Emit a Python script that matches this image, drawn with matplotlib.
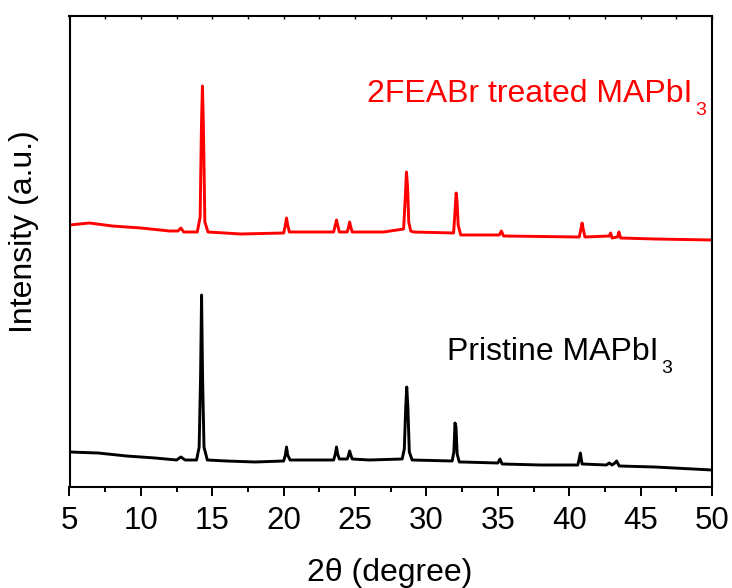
import matplotlib
matplotlib.use("Agg")
import matplotlib.pyplot as plt
from matplotlib.ticker import MultipleLocator

plt.rcParams['font.family'] = ['Liberation Sans', 'DejaVu Sans']

# Pristine MAPbI3 (black) : 2theta, intensity (a.u.)
pristine_2theta = [5.0, 7.0, 9.0, 11.0, 12.5, 12.8, 13.1, 13.9, 14.08, 14.18, 14.25, 14.32, 14.42, 14.65,
                   16.0, 18.0, 20.0, 20.12, 20.2, 20.28, 20.45, 22.0, 23.5, 23.62, 23.7, 23.78, 23.9,
                   24.45, 24.55, 24.62, 24.7, 24.8, 26.0, 28.3, 28.45, 28.55, 28.62, 28.7, 28.8, 29.0,
                   31.8, 31.92, 32.0, 32.07, 32.15, 32.3, 32.5, 35.0, 35.15, 35.3, 38.0, 40.6, 40.7,
                   40.78, 40.9, 42.6, 42.8, 43.0, 43.2, 43.32, 43.5, 46.0, 50.0]
pristine_int = [35, 34, 31, 29, 27, 30, 27, 27, 40, 110, 192, 110, 40, 27,
                26, 25, 26, 32, 40, 32, 27, 27, 27, 33, 40, 33, 28,
                28, 32, 36, 32, 28, 27, 28, 38, 80, 100, 80, 35, 27,
                26, 35, 64, 60, 33, 25, 25, 24, 28, 23, 22, 22, 28,
                34, 23, 22, 24, 22, 24, 26, 21, 20, 17]

# 2FEABr treated MAPbI3 (red)
treated_2theta = [5.0, 6.4, 8.0, 10.0, 12.0, 12.6, 12.8, 13.0, 13.95, 14.15, 14.24, 14.31, 14.38, 14.48, 14.7,
                  17.0, 20.0, 20.12, 20.2, 20.28, 20.4, 23.5, 23.62, 23.7, 23.78, 23.9,
                  24.45, 24.55, 24.62, 24.7, 24.8, 27.0, 28.4, 28.52, 28.6, 28.68, 28.76, 28.9, 29.1,
                  31.9, 32.0, 32.08, 32.15, 32.22, 32.4, 35.1, 35.25, 35.4, 40.7, 40.82, 40.9, 40.98,
                  41.1, 42.8, 42.9, 43.0, 43.38, 43.48, 43.6, 46.0, 50.0]
treated_int = [262, 264, 261, 259, 256, 256, 259, 255, 255, 270, 360, 401, 360, 265, 255,
               253, 254, 262, 269, 262, 255, 255, 262, 267, 262, 255,
               255, 260, 265, 260, 255, 255, 258, 290, 315, 300, 265, 256, 255,
               254, 275, 294, 285, 262, 252, 252, 256, 251, 250, 258, 264, 258,
               250, 251, 254, 249, 250, 255, 249, 248, 247]

labels = ["2FEABr treated MAPbI", "Pristine MAPbI"]
label_sub = "3"
x_ticks = [5, 10, 15, 20, 25, 30, 35, 40, 45, 50]

W, H = 732, 588
fig = plt.figure(figsize=(W / 100, H / 100), dpi=100)
ax = fig.add_axes([69.5 / W, 1 - 487 / H, 642.5 / W, 471 / H])

ax.plot(pristine_2theta, pristine_int, color='black', lw=2.1, solid_joinstyle='round')
ax.plot(treated_2theta, treated_int, color='#ff0000', lw=2.1, solid_joinstyle='round')

ax.set_xlim(5, 50)
ax.set_ylim(0, 471)
ax.set_xticks(x_ticks)
ax.xaxis.set_minor_locator(MultipleLocator(2.5))
ax.tick_params(axis='x', which='major', direction='out', length=6.5, width=1.4,
               labelsize=22.5, pad=7.5, top=False)
ax.tick_params(axis='x', which='minor', direction='out', length=3.5, width=1.4, top=False)
ax.set_yticks([])

# top inward ticks
secx = ax.secondary_xaxis('top')
secx.set_xticks(x_ticks)
secx.xaxis.set_minor_locator(MultipleLocator(2.5))
secx.tick_params(axis='x', which='both', direction='in', length=2.5, width=1.0, labeltop=False)
secx.set_xticklabels([])
secx.spines['top'].set_visible(False)

for s in ax.spines.values():
    s.set_linewidth(1.5)

fig.text(390 / W, 1 - 573 / H, "2θ (degree)", fontsize=23, ha='center', va='center')
fig.text(24 / W, 1 - 232 / H, "Intensity (a.u.)", fontsize=23, ha='center', va='center',
         rotation=90)

t1 = ax.text((367 - 69.5) / 642.5, (487 - 102) / 471, labels[0], transform=ax.transAxes,
             color='#ff0000', fontsize=23, ha='left', va='baseline')
t2 = ax.text((447 - 69.5) / 642.5, (487 - 360) / 471, labels[1], transform=ax.transAxes,
             color='black', fontsize=23, ha='left', va='baseline')

for t, col in [(t1, '#ff0000'), (t2, 'black')]:
    ax.annotate(label_sub, xy=(1, 0), xycoords=t, xytext=(2.0, -4.5),
                textcoords='offset points', color=col, fontsize=14,
                ha='left', va='baseline')

fig.savefig("out.png", dpi=100)
